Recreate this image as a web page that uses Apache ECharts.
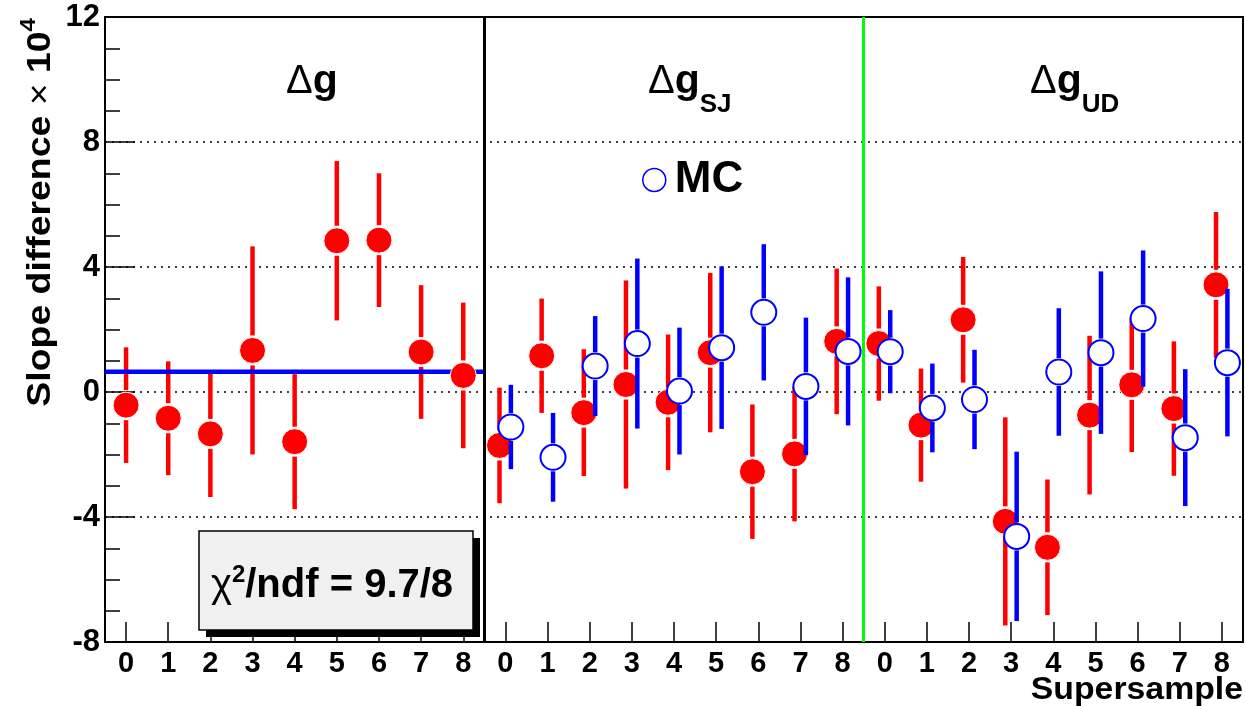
<!DOCTYPE html>
<html><head><meta charset="utf-8">
<script src="https://cdn.jsdelivr.net/npm/echarts@6/dist/echarts.min.js"></script>
<style>html,body{margin:0;padding:0;background:#fff;}#c{width:1246px;height:706px;}</style>
</head><body><div id="c"></div>
<script>
// ---------------- data ----------------
const supersamples = [0, 1, 2, 3, 4, 5, 6, 7, 8];
const panelNames = ['Δg', 'Δg_SJ', 'Δg_UD'];
// panel 1: Δg (data)
const dgData = [-0.42, -0.84, -1.34, 1.33, -1.59, 4.84, 4.86, 1.28, 0.53];
const dgErr  = [1.85, 1.82, 2.02, 3.33, 2.16, 2.55, 2.14, 2.14, 2.33];
// panel 2: Δg_SJ
const sjData = [-1.71, 1.16, -0.66, 0.24, -0.33, 1.26, -2.55, -1.98, 1.62];
const sjErr  = [1.85, 1.83, 2.03, 3.33, 2.17, 2.55, 2.15, 2.16, 2.33];
const sjMC   = [-1.12, -2.09, 0.83, 1.55, 0.03, 1.42, 2.55, 0.18, 1.30];
const sjMCErr= [1.35, 1.42, 1.60, 2.72, 2.03, 2.60, 2.18, 2.20, 2.37];
// panel 3: Δg_UD
const udData = [1.55, -1.06, 2.31, -4.14, -4.97, -0.74, 0.23, -0.53, 3.43];
const udErr  = [1.83, 1.81, 2.01, 3.33, 2.17, 2.54, 2.15, 2.15, 2.33];
const udMC   = [1.29, -0.51, -0.24, -4.62, 0.64, 1.26, 2.35, -1.46, 0.94];
const udMCErr= [1.33, 1.42, 1.59, 2.71, 2.04, 2.60, 2.18, 2.19, 2.36];
// fit of panel 1
const fitValue = 0.65;
const chi2Parts = ['χ', '2', '/ndf = 9.7/8'];
const yMin = -8, yMax = 12, yStep = 4;
const xTitle = 'Supersample';
const yTitleParts = ['Slope difference ', '×', ' 10', '4'];
const mcLabel = 'MC';

// ---------------- build ----------------
const FONT = '"Liberation Sans", Arial, Helvetica, sans-serif';
const N = supersamples.length;
const redOffset = [0, -0.14, -0.14];
const blueOffset = 0.13;
const dataPanels = [[dgData, dgErr], [sjData, sjErr], [udData, udErr]];
const mcPanels = [null, [sjMC, sjMCErr], [udMC, udMCErr]];
const redPts = [], bluePts = [];
dataPanels.forEach((p, pi) => {
  supersamples.forEach((s, i) => {
    redPts.push([pi * N + i + redOffset[pi], p[0][i], p[1][i]]);
  });
});
mcPanels.forEach((p, pi) => {
  if (!p) return;
  supersamples.forEach((s, i) => {
    bluePts.push([pi * N + i + blueOffset, p[0][i], p[1][i]]);
  });
});
const tickPositions = [];
for (let pi = 0; pi < 3; pi++) supersamples.forEach((s, i) => tickPositions.push(pi * N + i));

const R = 13;
function barRender(color, gap) {
  return function (params, api) {
    const x = api.value(0), y = api.value(1), e = api.value(2);
    const c = api.coord([x, y]);
    const t = api.coord([x, y + e]);
    const b = api.coord([x, y - e]);
    const ch = [];
    if (c[1] - gap > t[1]) ch.push({type: 'line', shape: {x1: c[0], y1: t[1], x2: c[0], y2: c[1] - gap}, style: {stroke: color, lineWidth: 4.5}});
    if (b[1] > c[1] + gap) ch.push({type: 'line', shape: {x1: c[0], y1: c[1] + gap, x2: c[0], y2: b[1]}, style: {stroke: color, lineWidth: 4.5}});
    return {type: 'group', children: ch};
  };
}

const chart = echarts.init(document.getElementById('c'), null, {renderer: 'canvas'});
const titleRich = {
  d: {fontFamily: FONT, fontSize: 40, fontWeight: 'normal', color: '#000'},
  g: {fontFamily: FONT, fontSize: 41, fontWeight: 'bold', color: '#000'},
  sub: {fontFamily: FONT, fontSize: 26, fontWeight: 'bold', color: '#000', padding: [46, 0, 0, 0]}
};
function panelTitle(name) {
  const parts = name.split('_');
  let t = '{d|' + parts[0].charAt(0) + '}{g|' + parts[0].slice(1) + '}';
  if (parts[1]) t += '{sub|' + parts[1] + '}';
  return t;
}
const titleX = [286, 648, 1030];

chart.setOption({
  animation: false,
  backgroundColor: '#fff',
  grid: {left: 105, right: 3, top: 17, bottom: 64, show: true, borderColor: '#000', borderWidth: 2, containLabel: false},
  legend: {
    data: [mcLabel], left: 642, top: 158, padding: 0, itemWidth: 23, itemHeight: 23,
    textStyle: {fontFamily: FONT, fontSize: 44, fontWeight: 'bold', color: '#000', lineHeight: 44, padding: [0, 0, 0, 4]},
    itemStyle: {color: '#fff', borderColor: '#0000ff', borderWidth: 1.5}
  },
  xAxis: {
    type: 'value', min: -0.5, max: 26.5,
    axisLine: {show: true, onZero: false, lineStyle: {color: '#000', width: 2}},
    axisTick: {show: true, inside: true, length: 20, customValues: tickPositions, lineStyle: {color: '#000', width: 1.5}},
    axisLabel: {show: true, margin: 7, customValues: tickPositions, formatter: v => String(supersamples[Math.round(v) % N]),
      fontFamily: FONT, fontSize: 29, fontWeight: 'bold', color: '#000'},
    splitLine: {show: false}
  },
  yAxis: {
    type: 'value', min: yMin, max: yMax, interval: yStep,
    axisLine: {show: true, onZero: false, lineStyle: {color: '#000', width: 2}},
    axisTick: {show: true, inside: true, length: 30, lineStyle: {color: '#000', width: 1.5}},
    minorTick: {show: true, splitNumber: 4, length: 15, lineStyle: {color: '#000', width: 1.5}},
    axisLabel: {margin: 5, fontFamily: FONT, fontSize: 31, fontWeight: 'bold', color: '#000'},
    splitLine: {show: true, lineStyle: {color: '#000', width: 1.5, type: [2, 5]}}
  },
  series: [
    {type: 'line', name: 'fit', data: [[-0.5, fitValue], [8.5, fitValue]], symbol: 'none', z: 3,
      lineStyle: {color: '#0000ff', width: 4.5}, silent: true,
      markLine: {silent: true, symbol: 'none', label: {show: false},
        data: [
          {xAxis: 8.5, lineStyle: {color: '#000', width: 3, type: 'solid'}},
          {xAxis: 17.5, lineStyle: {color: '#00ff00', width: 3, type: 'solid'}}
        ]}},
    {type: 'custom', name: 'dataBars', data: redPts, encode: {x: 0, y: 1}, renderItem: barRender('#ff0000', R + 2), z: 2, silent: true},
    {type: 'scatter', name: 'Data', data: redPts.map(p => [p[0], p[1]]), symbol: 'circle', symbolSize: 26, z: 4,
      itemStyle: {color: '#ff0000', borderColor: '#fff', borderWidth: 1, opacity: 1}},
    {type: 'custom', name: 'mcBars', data: bluePts, encode: {x: 0, y: 1}, renderItem: barRender('#0000ff', R + 1), z: 5, silent: true},
    {type: 'scatter', name: mcLabel, data: bluePts.map(p => [p[0], p[1]]), symbol: 'circle', symbolSize: 25, z: 6,
      itemStyle: {color: '#fff', borderColor: '#0000ff', borderWidth: 2, opacity: 1}}
  ],
  graphic: [
    ...panelNames.map((n, i) => ({type: 'text', x: titleX[i], y: 82, z: 10,
      style: {text: panelTitle(n), rich: titleRich, align: 'left', textAlign: 'left', verticalAlign: 'middle', textVerticalAlign: 'middle'}})),
    {type: 'rect', shape: {x: 206, y: 538, width: 274, height: 99}, style: {fill: '#000'}, z: 10},
    {type: 'rect', shape: {x: 199, y: 531, width: 274, height: 99}, style: {fill: '#f0f0f0', stroke: '#000', lineWidth: 1.5}, z: 11},
    {type: 'text', x: 332, y: 586, z: 12,
      style: {text: '{c|' + chi2Parts[0] + '}{s|' + chi2Parts[1] + '}{m|' + chi2Parts[2] + '}', align: 'center', textAlign: 'center', verticalAlign: 'middle', textVerticalAlign: 'middle',
        rich: {c: {fontFamily: FONT, fontSize: 40, fontWeight: 'normal', color: '#000'},
               s: {fontFamily: FONT, fontSize: 24, fontWeight: 'bold', color: '#000', padding: [0, 0, 22, 0]},
               m: {fontFamily: FONT, fontSize: 40, fontWeight: 'bold', color: '#000'}}}},
    {type: 'text', x: 1243, y: 690, scaleX: 1.09, z: 10,
      style: {text: xTitle, font: 'bold 31px ' + FONT, fill: '#000', align: 'right', textAlign: 'right', verticalAlign: 'middle', textVerticalAlign: 'middle'}},
    {type: 'text', x: 41, y: 18, rotation: Math.PI / 2, scaleX: 1.1, z: 10,
      style: {text: '{m|' + yTitleParts[0] + '}{x|' + yTitleParts[1] + '}{m|' + yTitleParts[2] + '}{s|' + yTitleParts[3] + '}',
        align: 'right', textAlign: 'right', verticalAlign: 'middle', textVerticalAlign: 'middle',
        rich: {m: {fontFamily: FONT, fontSize: 34, fontWeight: 'bold', color: '#000'},
               x: {fontFamily: FONT, fontSize: 34, fontWeight: 'normal', color: '#000'},
               s: {fontFamily: FONT, fontSize: 22, fontWeight: 'bold', color: '#000', padding: [0, 0, 24, 0]}}}}
  ]
});
</script>
</body></html>
